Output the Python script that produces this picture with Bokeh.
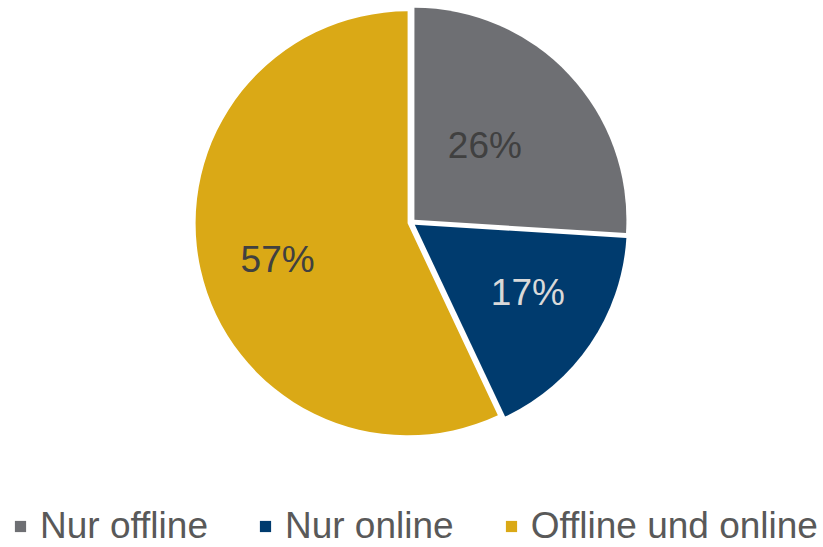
import numpy as np
from bokeh.plotting import figure
from bokeh.models import ColumnDataSource, Legend, LegendItem, Range1d
from bokeh.core.properties import value
from bokeh.embed import file_html
from bokeh.resources import INLINE

categories = ["Nur offline", "Nur online", "Offline und online"]
shares = [26, 17, 57]
labels = ["26%", "17%", "57%"]
colors = ["#6e6f73", "#003b6e", "#daa916"]
label_colors = ["#404040", "#d9d9d9", "#404040"]

W, H = 823, 547
cx, cy = 411, H - 222
R = 212
explode = 4
label_r = np.array([106, 136, 139])
label_rot = np.deg2rad(3)

vals = np.array(shares, dtype=float)
frac = vals / vals.sum()
cum = np.concatenate([[0], np.cumsum(frac)]) * 2 * np.pi
start = np.pi / 2 - cum[:-1]
end = np.pi / 2 - cum[1:]
mid = (start + end) / 2

xs = cx + explode * np.cos(mid)
ys = cy + explode * np.sin(mid)
lx = cx + label_r * np.cos(mid + label_rot)
ly = cy + label_r * np.sin(mid + label_rot)

src = ColumnDataSource(dict(x=xs, y=ys, start=start, end=end, color=colors,
                            cat=categories, lx=lx, ly=ly, label=labels,
                            lcolor=label_colors))

p = figure(width=W, height=H, output_backend="svg", toolbar_location=None,
           x_range=Range1d(0, W), y_range=Range1d(0, H), min_border=0)
p.axis.visible = False
p.grid.visible = False
p.outline_line_color = None
p.background_fill_color = "white"

wr = p.wedge(x="x", y="y", radius=R, start_angle="start", end_angle="end",
             direction="clock", fill_color="color", line_color=None, source=src)

p.text(x="lx", y="ly", text="label", text_color="lcolor", source=src,
       text_font=value("Liberation Sans"), text_font_size="37px",
       text_align="center", text_baseline="middle")

items = [LegendItem(label=c, renderers=[wr], index=i) for i, c in enumerate(categories)]
legend = Legend(items=items, orientation="horizontal", location=(13, 0),
                label_text_font="Liberation Sans", label_text_font_size="37px",
                label_text_color="#595959", glyph_width=14, glyph_height=14,
                label_standoff=13, spacing=50, padding=0, margin=0,
                border_line_color=None, background_fill_alpha=0)
p.add_layout(legend, "center")

open("out.html", "w").write(file_html(p, INLINE))
